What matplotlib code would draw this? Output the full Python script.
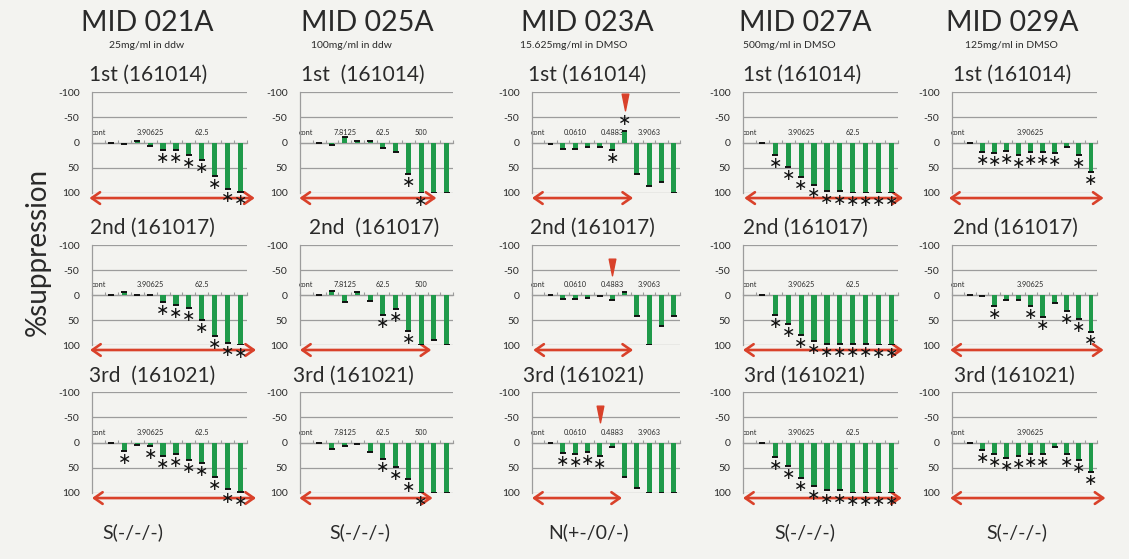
import numpy as np
import matplotlib
matplotlib.use("Agg")
import matplotlib.pyplot as plt
from matplotlib.path import Path

plt.rcParams['font.family'] = ['Lato', 'DejaVu Sans']

# ---------------------------------------------------------------- data
compounds = ["MID 021A", "MID 025A", "MID 023A", "MID 027A", "MID 029A"]
stocks = ["25mg/ml in ddw", "100mg/ml in ddw", "15.625mg/ml in DMSO",
          "500mg/ml in DMSO", "125mg/ml in DMSO"]
verdicts = ["S(-/-/-)", "S(-/-/-)", "N(+-/0/-)", "S(-/-/-)", "S(-/-/-)"]

run_titles = [
    ["1st (161014)", "2nd (161017)", "3rd  (161021)"],
    ["1st  (161014)", "2nd  (161017)", "3rd (161021)"],
    ["1st (161014)", "2nd (161017)", "3rd (161021)"],
    ["1st (161014)", "2nd (161017)", "3rd (161021)"],
    ["1st (161014)", "2nd (161017)", "3rd (161021)"],
]

# concentration labels shown on the zero line (blank = label skipped)
labels_021A = ["cont", "", "", "", "3.90625", "", "", "", "62.5", "", "", ""]
labels_025A = ["cont", "", "", "7.8125", "", "", "62.5", "", "", "500", "", ""]
labels_023A = ["cont", "", "", "0.0610", "", "", "0.4883", "", "", "3.9063", "", ""]
labels_027A = ["cont", "", "", "", "3.90625", "", "", "", "62.5", "", "", ""]
labels_029A = ["cont", "", "", "", "", "", "3.90625", "", "", "", "", ""]

nan = np.nan
# % suppression per concentration (positive = suppression), three runs each
supp_021A = [
    [nan, 0, 3, -2, 6, 15, 14, 24, 34, 67, 92, 98],
    [nan, 0, -6, -1, -1, 13, 20, 26, 49, 82, 95, 100],
    [nan, 0, 17, 5, 6, 27, 23, 35, 41, 69, 93, 99],
]
supp_025A = [
    [nan, 0, 4, -11, -3, -2, 10, 19, 62, 100, 100, 100],
    [nan, 0, -8, 13, -7, 12, 40, 28, 71, 100, 90, 100],
    [nan, 0, 13, 6, 2, 18, 33, 48, 73, 100, 100, 100],
]
supp_023A = [
    [nan, 2, 12, 12, 9, 8, 15, -23, 62, 86, 79, 100],
    [nan, 0, 7, 7, 5, 1, 9, -6, 41, 100, 61, 41],
    [nan, 0, 20, 23, 18, 27, 8, 68, 90, 100, 100, 100],
]
supp_027A = [
    [nan, 0, 25, 48, 69, 84, 96, 97, 100, 100, 100, 100],
    [nan, 0, 40, 57, 79, 92, 98, 98, 98, 98, 100, 100],
    [nan, 0, 29, 47, 71, 87, 95, 95, 100, 100, 100, 100],
]
supp_029A = [
    [nan, 0, 18, 21, 17, 25, 18, 18, 21, 8, 25, 58],
    [nan, 0, 2, 22, 9, 9, 21, 44, 16, 32, 47, 73],
    [nan, 0, 15, 22, 30, 27, 22, 22, 8, 22, 34, 59],
]

# concentrations marked significant (*)
sig_021A = [[5, 6, 7, 8, 9, 10, 11], [5, 6, 7, 8, 9, 10, 11],
            [2, 4, 5, 6, 7, 8, 9, 10, 11]]
sig_025A = [[8, 9], [6, 7, 8], [6, 7, 8, 9]]
sig_023A = [[6, 7], [], [2, 3, 4, 5]]
sig_027A = [list(range(2, 12))] * 3
sig_029A = [[2, 3, 4, 5, 6, 7, 8, 10, 11], [3, 6, 7, 9, 10, 11],
            [2, 3, 4, 5, 6, 7, 9, 10, 11]]

# concentration range covered by the red double arrow (category units)
range_021A = [(-0.7, 12.1), (-0.65, 12.2), (-0.5, 12.2)]
range_025A = [(-0.55, 10.2), (-0.5, 9.8), (-0.55, 9.9)]
range_023A = [(-0.5, 7.7), (-0.4, 7.7), (-0.5, 6.8)]
range_027A = [(-0.4, 11.9), (-0.5, 11.9), (-0.5, 11.8)]
range_029A = [(-0.75, 12.05), (-0.65, 12.05), (-0.65, 12.2)]

# position of the red marker above the 023A panels (category, % level)
marker_023A_x = [7, 6, 5]
marker_023A_y = [-80, -56, -57]

labels = [labels_021A, labels_025A, labels_023A, labels_027A, labels_029A]
supp = [supp_021A, supp_025A, supp_023A, supp_027A, supp_029A]
sig = [sig_021A, sig_025A, sig_023A, sig_027A, sig_029A]
ranges = [range_021A, range_025A, range_023A, range_027A, range_029A]

# ---------------------------------------------------------------- layout
W, H = 1129, 559
fig = plt.figure(figsize=(W / 100, H / 100), dpi=100)
fig.patch.set_facecolor('#f3f3f0')

col_px = [(92, 247), (300, 453), (532, 680), (743, 898), (952, 1097)]
row_px = [(92, 193), (245, 345), (392, 493)]

title_x = [147, 367, 587, 805, 1012]
stock_x = [147, 351, 574, 789, 1011]
run_x = [[148, 152, 152], [363, 374, 353], [587, 592, 583],
         [802, 805, 804], [1012, 1015, 1014]]
run_y = [75, 228, 376]
verdict_x = [133, 360, 589, 805, 1017]

GREEN = '#1f9a4a'
RED = '#d9412a'
GRID = '#9c9c9c'
TXT = '#2a2a2a'

tri = Path([(-0.2, 0.5), (0.2, 0.5), (0.0, -0.5), (-0.2, 0.5)],
           [Path.MOVETO, Path.LINETO, Path.LINETO, Path.CLOSEPOLY])


def fx(px):
    return px / W


def fy(py):
    return 1 - py / H


for c in range(5):
    L, R = col_px[c]
    fig.text(fx(title_x[c]), fy(23), compounds[c], fontsize=20.5,
             ha='center', va='center', color=TXT)
    fig.text(fx(stock_x[c]), fy(46), stocks[c], fontsize=7.5,
             ha='center', va='center', color=TXT)
    fig.text(fx(verdict_x[c]), fy(532), verdicts[c], fontsize=14,
             ha='center', va='center', color=TXT)

    for r in range(3):
        T, B = row_px[r]
        ax = fig.add_axes([fx(L), fy(B), (R - L) / W, (B - T) / H])
        ax.set_facecolor('none')
        vals = np.array(supp[c][r], dtype=float)
        x = np.arange(len(vals))
        ok = ~np.isnan(vals)

        ax.bar(x[ok], vals[ok], width=0.4, color=GREEN, zorder=3)
        ax.hlines(vals[ok], x[ok] - 0.24, x[ok] + 0.24, colors='#111111',
                  lw=1.4, zorder=4)

        for i in sig[c][r]:
            v = vals[i]
            ys = v + 17 if v >= 0 else v - 21
            ax.text(i, ys, '\u2217', family='DejaVu Sans', fontsize=11.5,
                    ha='center', va='center', color='#111111',
                    clip_on=False, zorder=5)

        x0, x1 = ranges[c][r]
        ax.annotate('', xy=(x1, 110), xytext=(x0, 110), xycoords='data',
                    arrowprops=dict(arrowstyle='<->,head_length=0.6,head_width=0.42',
                                    color=RED, lw=1.9, shrinkA=0, shrinkB=0),
                    annotation_clip=False, zorder=2)

        if c == 2:
            ax.plot([marker_023A_x[r]], [marker_023A_y[r]], marker=tri,
                    markersize=12, color=RED, linestyle='none',
                    clip_on=False, zorder=5)

        ax.set_xlim(-0.5, len(vals) - 0.5)
        ax.set_ylim(100, -100)
        ax.set_yticks([-100, -50, 0, 50, 100])
        ax.set_yticklabels(["-100", "-50", "0", "50", "100"])
        ax.yaxis.grid(True, color=GRID, lw=0.9, zorder=0)
        ax.set_axisbelow(True)
        ax.tick_params(axis='y', length=0, pad=9, labelsize=7.5,
                       labelcolor=TXT)

        for s in ('right', 'bottom'):
            ax.spines[s].set_visible(False)
        ax.spines['left'].set_color(GRID)
        ax.spines['left'].set_linewidth(0.9)
        ax.spines['top'].set_position(('data', 0))
        ax.spines['top'].set_color(GRID)
        ax.spines['top'].set_linewidth(0.9)

        ax.xaxis.set_ticks_position('top')
        ax.set_xticks(x)
        ax.set_xticklabels(labels[c], fontsize=5.3, color=TXT)
        ax.set_xticks(np.arange(-0.5, len(vals), 1.0), minor=True)
        ax.tick_params(axis='x', which='major', length=0, pad=5)
        ax.tick_params(axis='x', which='minor', length=2.5, width=0.8,
                       color=GRID, direction='out')

        fig.text(fx(run_x[c][r]), fy(run_y[r]), run_titles[c][r],
                 fontsize=15, ha='center', va='center', color=TXT)

fig.text(fx(38), fy(252), "%suppression", rotation=90, fontsize=20,
         ha='center', va='center', color=TXT)

fig.savefig('out.png', dpi=100, facecolor=fig.get_facecolor())
